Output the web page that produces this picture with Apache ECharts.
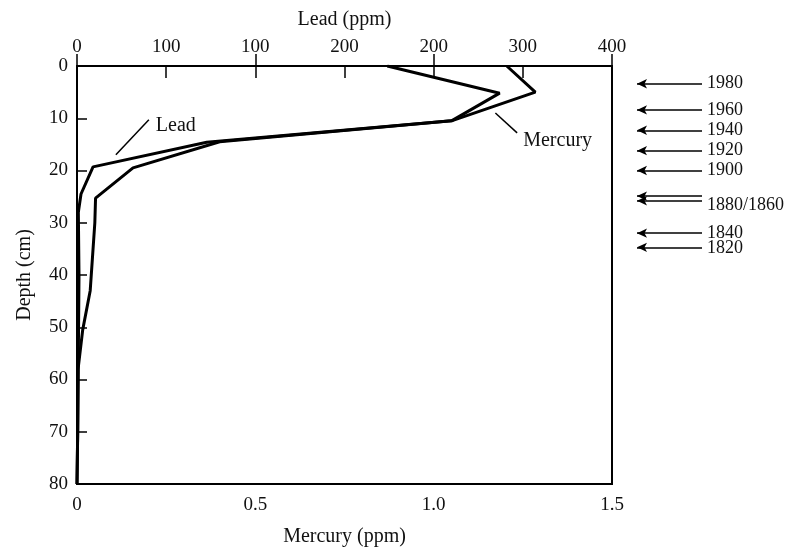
<!DOCTYPE html>
<html>
<head>
<meta charset="utf-8">
<script src="https://cdn.jsdelivr.net/npm/echarts@6/dist/echarts.min.js"></script>
<style>html,body{margin:0;padding:0;background:#fff}#c{width:792px;height:555px}</style>
</head>
<body>
<div id="c"></div>
<script>
// ---- data ----
var depthTicks = [0, 10, 20, 30, 40, 50, 60, 70, 80];
var mercuryTicks = ['0', '0.5', '1.0', '1.5'];
var leadTicks = ['0', '100', '100', '200', '200', '300', '400'];

// Lead (ppm) vs depth (cm)
var leadDepth = [0, 5.2, 10.5, 14.6, 19.3, 24.5, 28, 40, 55, 70, 80];
var leadPpm   = [232, 316, 280, 97, 12, 3, 1, 1.5, 1, 0.5, 0];

// Mercury (ppm) vs depth (cm)
var mercDepth = [0, 5.0, 10.5, 14.5, 19.5, 25.3, 30, 37, 43, 50.5, 58, 70, 80];
var mercPpm   = [1.205, 1.285, 1.05, 0.40, 0.157, 0.052, 0.05, 0.043, 0.037, 0.016, 0.003, 0.002, 0];

// dated horizons (year label, depth cm)
var yearLabels = ['1980', '1960', '1940', '1920', '1900', '', '1880/1860', '1840', '1820'];
var yearDepths = [3.4, 8.4, 12.3, 16.2, 20.0, 24.9, 25.8, 32.0, 34.7];

// ---- chart ----
var font = 'Liberation Serif';
var txt = '#111';
function pairs(xs, ys) { return xs.map(function (x, i) { return [x, ys[i]]; }); }

var yearOffsets = { '1880/1860': 4, '1840': 0, '1820': 1 };
var arrowLines = yearDepths.map(function (d, i) {
  return [
    { coord: [0, d] },
    { coord: [1, d], label: { show: yearLabels[i] !== '', formatter: yearLabels[i],
      position: 'end', distance: 5, color: txt, fontFamily: font, fontSize: 18,
      offset: [0, yearOffsets[yearLabels[i]] || 0] } }
  ];
});

var chart = echarts.init(document.getElementById('c'), null, { renderer: 'canvas' });
chart.setOption({
  backgroundColor: '#fff',
  animation: false,
  grid: [
    { left: 77, right: 180, top: 66, bottom: 71, show: true, borderColor: '#000', borderWidth: 2 },
    { left: 637, width: 65, top: 66, bottom: 71 }
  ],
  xAxis: [
    { type: 'value', gridIndex: 0, position: 'bottom', min: 0, max: 1.5, interval: 0.5,
      name: 'Mercury (ppm)', nameLocation: 'middle', nameGap: 43,
      nameTextStyle: { color: txt, fontFamily: font, fontSize: 20 },
      axisLine: { lineStyle: { color: '#000', width: 2 } },
      axisTick: { inside: true, length: 12, lineStyle: { color: '#000', width: 1.5 } },
      axisLabel: { color: txt, fontFamily: font, fontSize: 19, margin: 12,
        formatter: function (v) { return mercuryTicks[Math.round(v / 0.5)]; } },
      splitLine: { show: false } },
    { type: 'value', gridIndex: 0, position: 'top', min: 0, max: 400, interval: 400 / 6,
      name: 'Lead (ppm)', nameLocation: 'middle', nameGap: 36,
      nameTextStyle: { color: txt, fontFamily: font, fontSize: 20 },
      axisLine: { lineStyle: { color: '#000', width: 2 } },
      axisTick: { inside: true, length: 12, lineStyle: { color: '#000', width: 1.5 } },
      axisLabel: { color: txt, fontFamily: font, fontSize: 19, margin: 9,
        formatter: function (v) { return leadTicks[Math.round(v / (400 / 6))]; } },
      splitLine: { show: false } },
    { type: 'value', gridIndex: 1, min: 0, max: 1, show: false }
  ],
  yAxis: [
    { type: 'value', gridIndex: 0, inverse: true, min: 0, max: 80, interval: 10,
      name: 'Depth (cm)', nameLocation: 'middle', nameGap: 42, nameRotate: 90,
      nameTextStyle: { color: txt, fontFamily: font, fontSize: 20 },
      axisLine: { lineStyle: { color: '#000', width: 2 } },
      axisTick: { inside: true, length: 10, lineStyle: { color: '#000', width: 1.5 } },
      axisLabel: { color: txt, fontFamily: font, fontSize: 19, margin: 9,
        formatter: function (v) { return depthTicks.indexOf(v) >= 0 ? String(v) : ''; } },
      splitLine: { show: false } },
    { type: 'value', gridIndex: 1, inverse: true, min: 0, max: 80, show: false }
  ],
  series: [
    { name: 'Lead', type: 'line', xAxisIndex: 1, yAxisIndex: 0, data: pairs(leadPpm, leadDepth),
      showSymbol: false, symbol: 'none', lineStyle: { color: '#000', width: 3 } },
    { name: 'Mercury', type: 'line', xAxisIndex: 0, yAxisIndex: 0, data: pairs(mercPpm, mercDepth),
      showSymbol: false, symbol: 'none', lineStyle: { color: '#000', width: 3 },
      markLine: { silent: true, symbol: ['none', 'none'], animation: false,
        lineStyle: { color: '#000', width: 1.5, type: 'solid' }, label: { show: false },
        data: [
          [{ coord: [0.2015, 10.3] }, { coord: [0.109, 17.0] }],
          [{ coord: [1.173, 9.0] }, { coord: [1.234, 12.8] }]
        ] },
      markPoint: { silent: true, symbol: 'circle', symbolSize: 0, animation: false,
        data: [
          { coord: [0.221, 11.4], label: { show: true, formatter: 'Lead', position: 'right', distance: 0,
            color: txt, fontFamily: font, fontSize: 20 } },
          { coord: [1.251, 14.4], label: { show: true, formatter: 'Mercury', position: 'right', distance: 0,
            color: txt, fontFamily: font, fontSize: 20 } }
        ] } },
    { name: 'Years', type: 'line', xAxisIndex: 2, yAxisIndex: 1, data: [],
      markLine: { silent: true, animation: false, symbol: ['arrow', 'none'], symbolSize: [7, 10],
        lineStyle: { color: '#000', width: 1.5, type: 'solid' },
        data: arrowLines } }
  ]
});
</script>
</body>
</html>
